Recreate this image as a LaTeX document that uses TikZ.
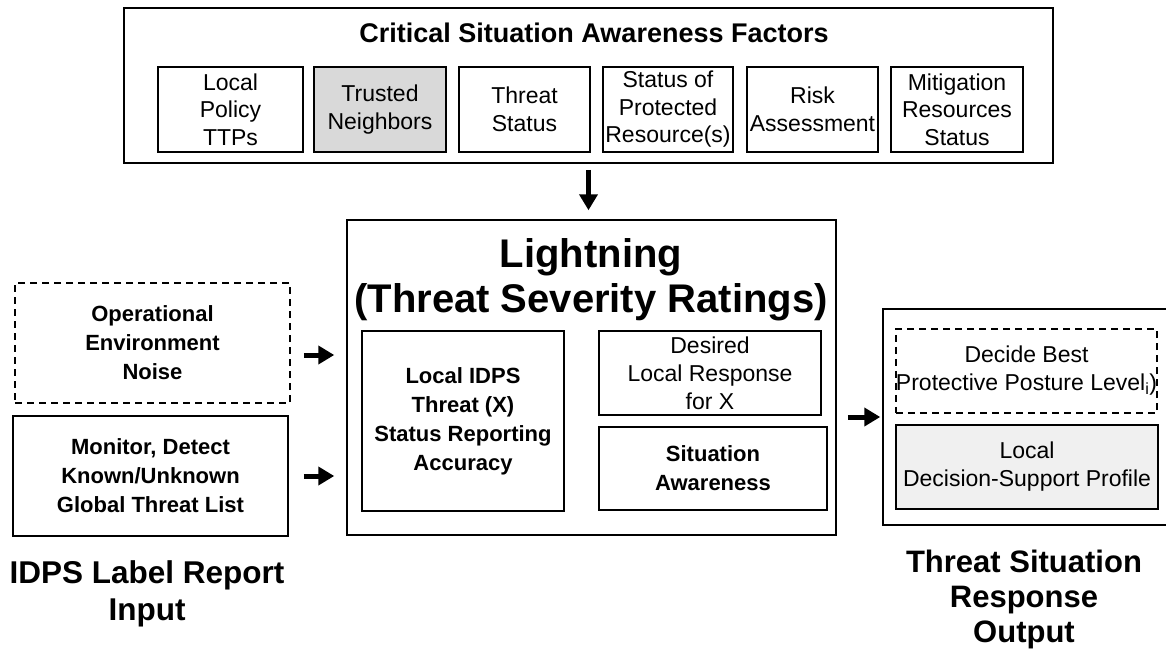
\documentclass[tikz,border=0pt]{standalone}
\usepackage{fontspec}
\setmainfont{Liberation Sans}
\usepackage{tikz}
\usetikzlibrary{shapes,arrows.meta,backgrounds,calc}
\usetikzlibrary{positioning}
\newcommand{\factorfont}{\fontsize{23}{27.5}\selectfont}
\newcommand{\plainfont}{\fontsize{23}{28}\selectfont}
\newcommand{\boldbox}{\fontsize{22}{29}\selectfont\bfseries}
\newcommand{\ratingfont}{\fontsize{40}{45}\selectfont\bfseries}
\tikzset{
  factor/.style={ draw, line width=1.5pt, inner sep=0pt, align=center, minimum height=85, font=\factorfont }
}
\tikzset{
  plainbox/.style={ draw, line width=1.5pt, inner sep=0pt, align=center, font=\plainfont }
}
\tikzset{
  boldbox/.style={ draw, line width=1.5pt, inner sep=0pt, align=center, font=\boldbox }
}
\tikzset{
  frame/.style={ draw, line width=1.5pt, inner sep=0pt }
}
\tikzset{
  dashbox/.style={ dash pattern=on 7pt off 5pt }
}
\tikzset{
  fatarrow/.style={ line width=5pt, -{Triangle[length=16pt,width=18pt]} }
}

\begin{document}
\begin{tikzpicture}[x=1pt, y=-1pt]
      \useasboundingbox (0,0) rectangle (1166,653);
      \clip (0,0) rectangle (1166,653);

      % critical situation awareness factors
      \node[frame, minimum width=929, minimum height=155] (csaf) at (588.5, 85.5) {};
      \node[font=\fontsize{27}{32}\selectfont\bfseries] (csaftitle) at (594, 33) {Critical Situation Awareness Factors};
      \node[factor, minimum width=145] (ttp) at (230.5, 109.5) {Local\\Policy\\TTPs};
      \node[factor, minimum width=132, fill=black!15] (nbr) at (380, 109.5) {Trusted\\Neighbors};
      \node[factor, minimum width=131] (thr) at (524.5, 109.5) {Threat\\Status};
      \node[factor, minimum width=130] (prot) at (668, 109.5) {Status of\\Protected\\Resource(s)};
      \node[factor, minimum width=131] (risk) at (812.5, 109.5) {Risk\\Assessment};
      \node[factor, minimum width=132] (mit) at (957, 109.5) {Mitigation\\Resources\\Status};

      % lightning
      \node[frame, minimum width=489, minimum height=315] (light) at (591.5, 377.5) {};
      \node[align=center, font=\ratingfont] (lighttitle) at (591, 280) {Lightning\\(Threat Severity Ratings)};
      \node[boldbox, minimum width=202, minimum height=180] (acc) at (463, 421) {Local IDPS\\Threat (X)\\Status Reporting\\Accuracy};
      \node[plainbox, minimum width=222, minimum height=84] (desired) at (710, 373) {Desired\\Local Response\\for X};
      \node[boldbox, minimum width=228, minimum height=83] (aware) at (713, 468.5) {Situation\\Awareness};

      % input
      \node[boldbox, dashbox, minimum width=275, minimum height=120] (noise) at (152.5, 343) {Operational\\Environment\\Noise};
      \node[boldbox, minimum width=275, minimum height=120] (monitor) at (150.5, 476) {Monitor, Detect\\Known/Unknown\\Global Threat List};
      \node[align=center, font=\fontsize{31.5}{37}\selectfont\bfseries] (inlabel) at (147, 594) {IDPS Label Report\\Input};

      % output
      \node[frame, minimum width=287, minimum height=216] (resp) at (1026.5, 417) {};
      \node[plainbox, dashbox, minimum width=261, minimum height=84] (posture) at (1026.5, 371) {Decide Best\\Protective Posture Level\textsubscript{i})};
      \node[plainbox, minimum width=262, minimum height=84, fill=black!6] (profile) at (1027, 467) {Local\\Decision-Support Profile};
      \node[align=center, font=\fontsize{31}{35}\selectfont\bfseries] (outlabel) at (1024, 599) {Threat Situation\\Response\\Output};

      \draw[fatarrow, shorten <=6pt, shorten >=9pt] (csaf.south) -- (csaf.south |- light.north);
      \draw[fatarrow] ($(noise.east)+(13,12)$) -- ($(noise.east -| light.west)+(-12,12)$);
      \draw[fatarrow, shorten <=15pt, shorten >=12pt] (monitor.east) -- (monitor.east -| light.west);
      \draw[fatarrow, shorten <=11pt, shorten >=2pt] (resp.west -| light.east) -- (resp.west);
    \end{tikzpicture}
\end{document}
